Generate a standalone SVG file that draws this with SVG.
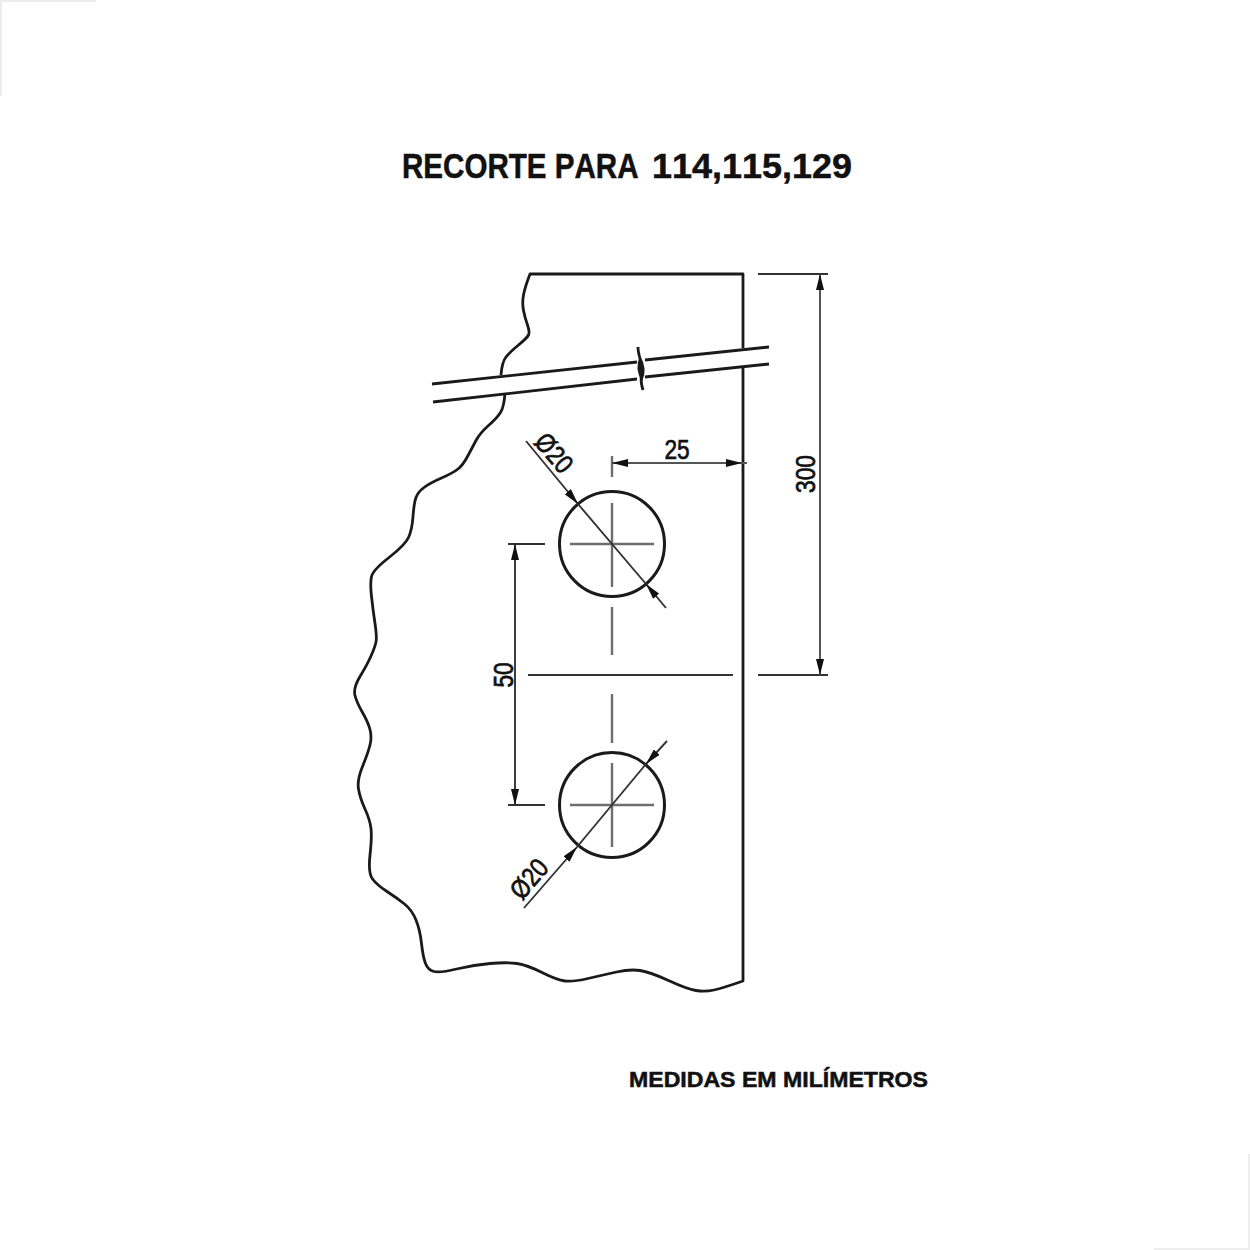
<svg xmlns="http://www.w3.org/2000/svg" width="1250" height="1250" viewBox="0 0 1250 1250">
  <defs>
    <marker id="arrow" viewBox="0 0 16 8" refX="16" refY="4" markerWidth="16" markerHeight="8" markerUnits="userSpaceOnUse" orient="auto-start-reverse">
      <path d="M0 0L16 4L0 8Z" fill="#111"/>
    </marker>
  </defs>
  <style>
    .edge{fill:none;stroke:#1a1a1a;stroke-width:2.8;stroke-linejoin:round}
    .hole{fill:none;stroke:#1a1a1a;stroke-width:3}
    .thin{fill:none;stroke:#333;stroke-width:1.9}
    .dim{fill:none;stroke:#555;stroke-width:2}
    .ctr{fill:none;stroke:#6e6e6e;stroke-width:2.4}
    .ext{fill:none;stroke:#333;stroke-width:1.9}
    text{font-family:"Liberation Sans",Arial,sans-serif;fill:#111;font-kerning:none}
    .b{font-weight:700;stroke:#111;stroke-width:.5}
    .lbl{font-size:27px;text-anchor:middle;stroke:#111;stroke-width:.7}
  </style>
  <rect width="1250" height="1250" fill="#fff"/>
  <path d="M1 96V1H96" fill="none" stroke="#ececec" stroke-width="2"/>
  <path d="M1249 1154V1249H1154" fill="none" stroke="#eeeeee" stroke-width="2"/>

  <g id="plate">
    <path class="edge" d="M743 348V274H530Q525 287 523.5 295Q522 303 523.5 310.5Q525 318 527.5 325Q530 332 528.5 335Q527 338 518.5 345Q510 352 506 357Q502 362 501 375"/>
    <path class="edge" d="M743 366V981Q723 988 714 990Q705 992 696 990.5Q687 989 668.5 980.5Q650 972 640 970.5Q630 969 616.5 972Q603 975 588 978.5Q573 982 565 981Q557 980 542 972.5Q527 965 517 963.5Q507 962 490 963.5Q473 965 456.5 969Q440 973 434 971.5Q428 970 425.5 963.5Q423 957 421.5 943.5Q420 930 416 920Q412 910 404.5 904Q397 898 387 891.5Q377 885 372.5 879Q368 873 370 855Q372 837 371 828.5Q370 820 365 809Q360 798 358.5 789Q357 780 362.5 766.5Q368 753 370 745Q372 737 370 729.5Q368 722 362.5 712.5Q357 703 355 695.5Q353 688 360 676.5Q367 665 371 656Q375 647 376 642Q377 637 375 623.5Q373 610 371.5 596.5Q370 583 371.5 576.5Q373 570 389 557.5Q405 545 408.5 537.5Q412 530 413 516.5Q414 503 416 497.5Q418 492 424 487.5Q430 483 441.5 478Q453 473 458 469Q463 465 467.5 456.5Q472 448 476 440.5Q480 433 488.5 425.5Q497 418 500.5 412.5Q504 407 505 393"/>
  </g>

  <g id="section-lines">
    <path class="edge" d="M432 384L637 362M645 360L769 347"/>
    <path class="edge" d="M433 402L637 379M645 377L769 364"/>
    <path class="edge" d="M638 347C638 356 642 362 642 368C642 374 639 378 643 390"/>
    <path d="M640 356Q648 368 642 382Q634 368 640 356Z" fill="#1a1a1a"/>
  </g>

  <g id="hole-top">
    <circle class="hole" cx="612" cy="544" r="52.5"/>
    <path class="ctr" d="M570 544H654M612 503V587M612 456V477M612 607V655"/>
  </g>

  <g id="hole-bottom">
    <circle class="hole" cx="612" cy="805" r="52.5"/>
    <path class="ctr" d="M570 805H654M612 763V847M612 694V743"/>
  </g>

  <g id="connectors">
    <path class="ext" d="M758 274H828M758 675H828M528 675H733M508 544H545M508 805H545"/>
    <path class="dim" d="M820 274V675" marker-start="url(#arrow)" marker-end="url(#arrow)"/>
    <path class="ext" d="M515 544V805" marker-start="url(#arrow)" marker-end="url(#arrow)"/>
    <path class="dim" d="M612 463H742" marker-start="url(#arrow)" marker-end="url(#arrow)"/>
    <path class="dim" d="M742 463H747"/>
    <path class="thin" d="M526 441L578 504" marker-end="url(#arrow)"/>
    <path class="thin" d="M666 608L646 584" marker-end="url(#arrow)"/>
    <path class="thin" d="M578 504L646 584"/>
    <path class="thin" d="M524 908L577 847" marker-end="url(#arrow)"/>
    <path class="thin" d="M667 741L646 764" marker-end="url(#arrow)"/>
    <path class="thin" d="M577 847L646 764"/>
  </g>

  <g id="labels">
    <text class="b" transform="translate(402 177.5) scale(.845 1)" font-size="35">RECORTE PARA</text>
    <text class="b" transform="translate(652 177.5) scale(1.028 1)" font-size="35">114,115,129</text>
    <text class="b" x="629" y="1087" font-size="21.5" textLength="299" lengthAdjust="spacingAndGlyphs">MEDIDAS EM MILÍMETROS</text>
    <text class="lbl" transform="translate(677 459) scale(.84 1)">25</text>
    <text class="lbl" transform="translate(815 474) rotate(-90) scale(.84 1)">300</text>
    <text class="lbl" transform="translate(513 675) rotate(-90) scale(.84 1)">50</text>
    <text class="lbl" transform="translate(547 459) rotate(49) scale(.84 1)">Ø20</text>
    <text class="lbl" transform="translate(536 885) rotate(-49) scale(.84 1)">Ø20</text>
  </g>
</svg>
